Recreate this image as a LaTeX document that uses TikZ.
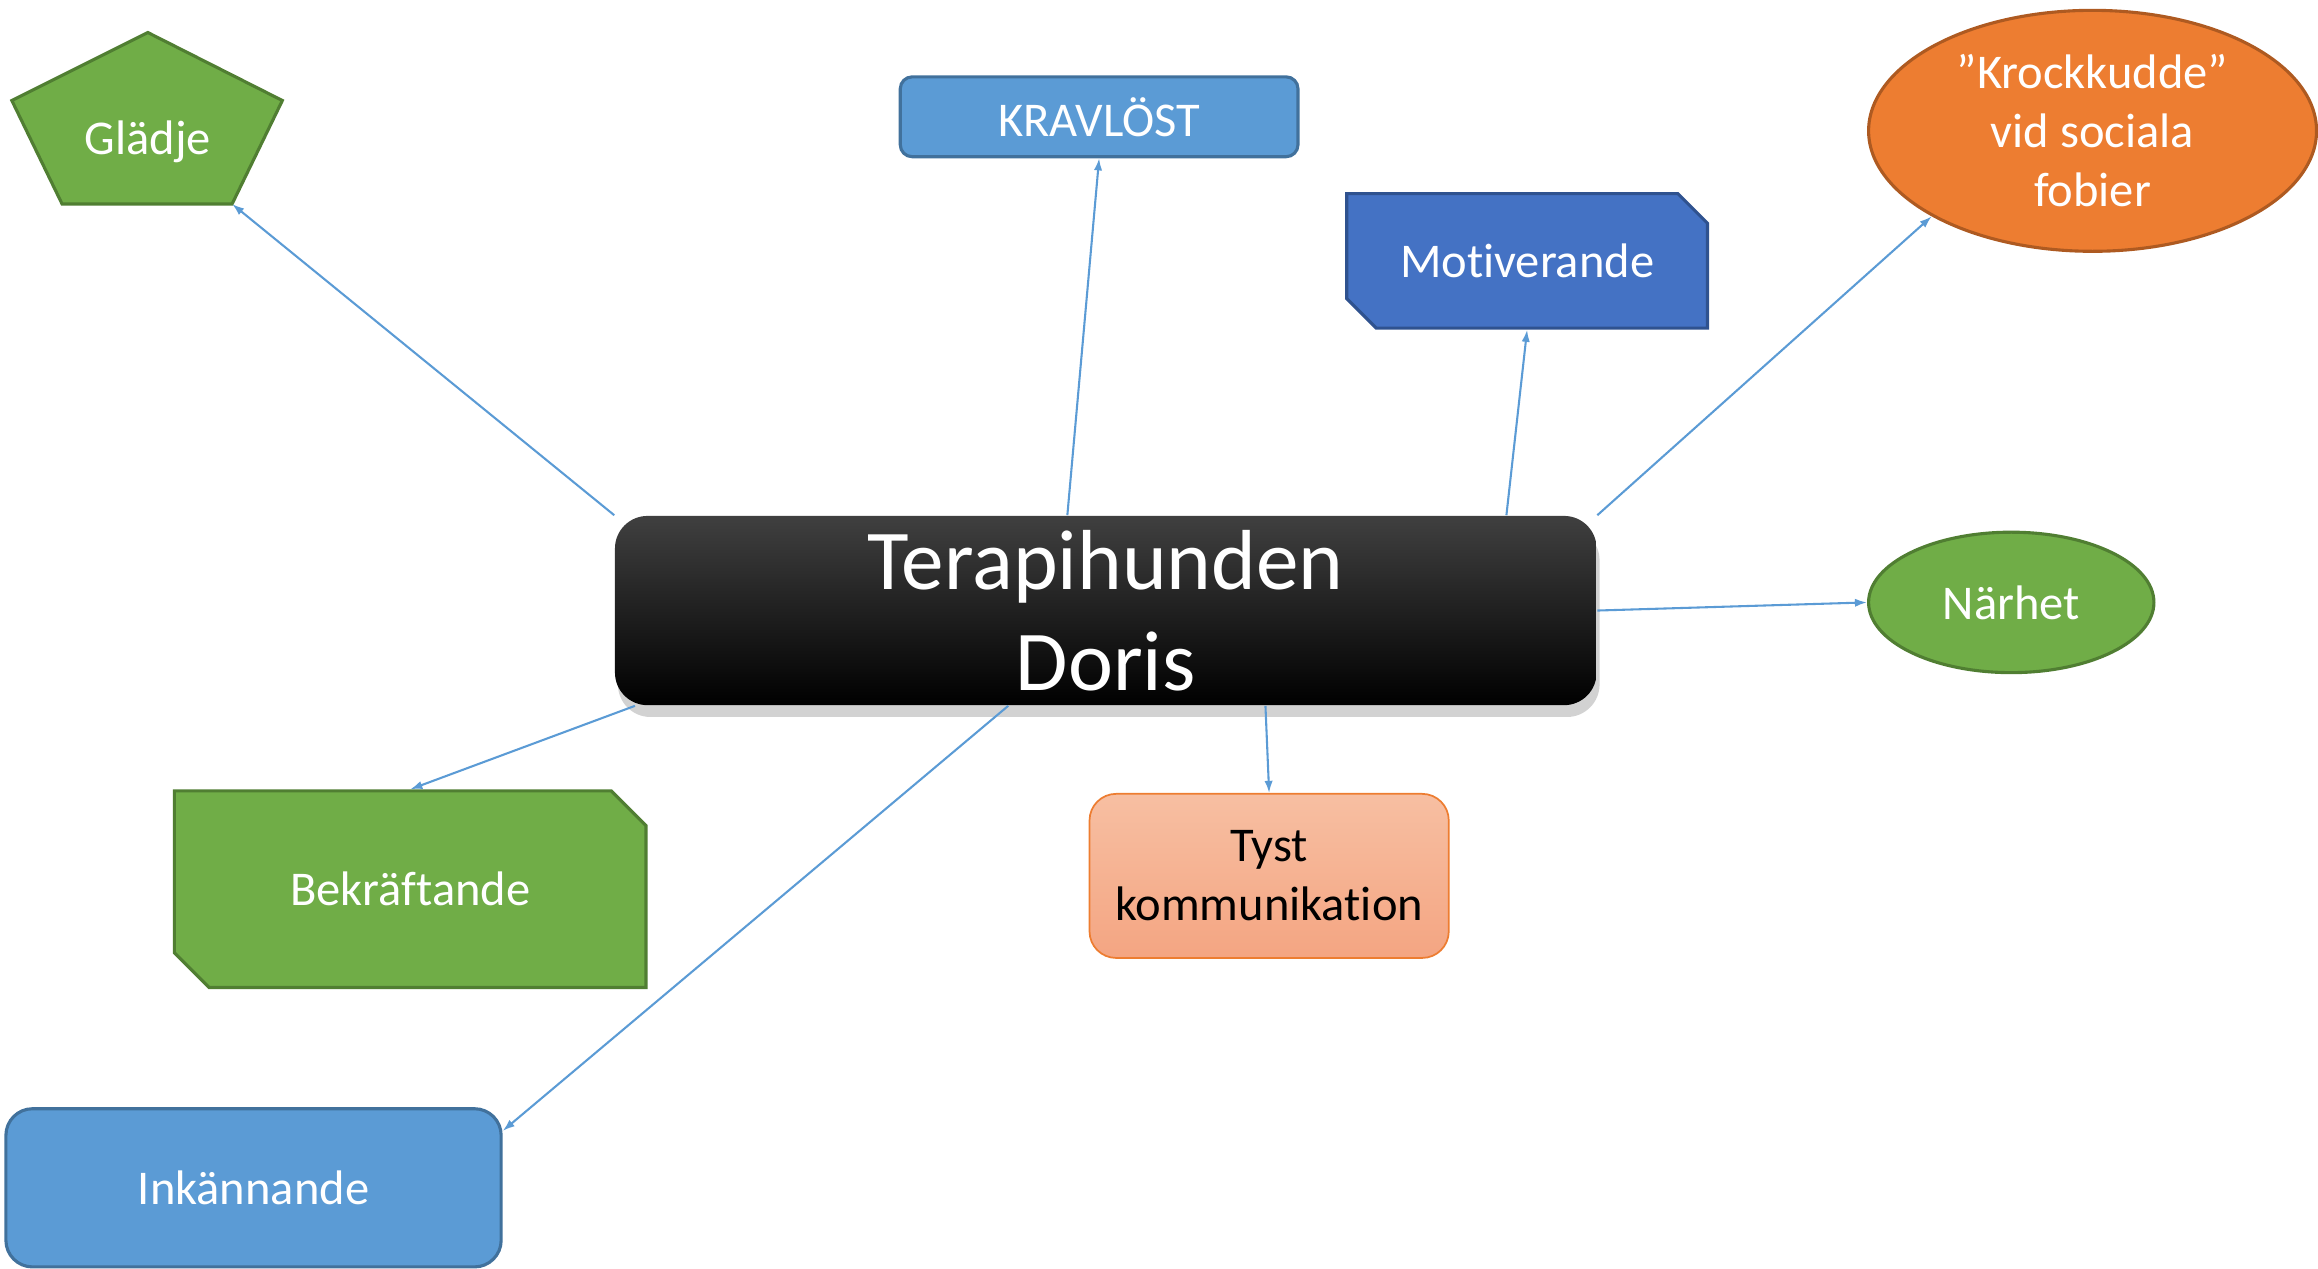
\documentclass[tikz,border=0pt]{standalone}
\usepackage{fontspec}
\setmainfont{Carlito}[Ligatures=NoCommon]
\usetikzlibrary{positioning,calc,arrows.meta,shapes.geometric,shapes.misc,shadows}

\definecolor{grnfill}{HTML}{70AD47}
\definecolor{grnline}{HTML}{507E32}
\definecolor{bluefill}{HTML}{5B9BD5}
\definecolor{blueline}{HTML}{41719C}
\definecolor{darkfill}{HTML}{4472C4}
\definecolor{darkline}{HTML}{2F528F}
\definecolor{orgfill}{HTML}{ED7D31}
\definecolor{orgline}{HTML}{AE5A21}
\definecolor{peachtop}{HTML}{F7BFA2}
\definecolor{peachbot}{HTML}{F4A582}
\definecolor{lnk}{HTML}{5B9BD5}

\begin{document}
\begin{tikzpicture}[x=0.015cm,y=-0.015cm,>=Latex,
  lbl/.style={font=\fontsize{14}{17}\selectfont, text=white, align=center},
  roundbox/.style={lbl, rectangle, rounded corners=0.12cm, fill=bluefill, draw=blueline, line width=0.9pt, inner sep=0pt},
  snipbox/.style={lbl, chamfered rectangle, chamfered rectangle corners={north east,south west}, line width=0.9pt, inner sep=0pt},
  oval/.style={lbl, ellipse, line width=0.9pt, inner sep=0pt},
  link/.style={-{Latex[length=3.5pt,width=2.4pt]}, draw=lnk, line width=0.6pt}]

  % Page
  \useasboundingbox (0,0) rectangle (1568,858);

  % Centre
  \node[rectangle, rounded corners=0.33cm, minimum width=9.96cm, minimum height=1.92cm,
        top color=black!75, middle color=black, bottom color=black,
        drop shadow={shadow xshift=0.3mm, shadow yshift=-1.2mm, opacity=0.25, fill=black!70},
        text=white, align=center, font=\fontsize{24.6}{29}\selectfont, inner sep=0pt]
        (td) at (748,413) {Terapihunden\\Doris};

  % Glädje (pentagon)
  \draw[fill=grnfill, draw=grnline, line width=0.9pt]
    (100,22) -- (191,68) -- (157,138) coordinate (glbr) -- (42,138) -- (8,68) -- cycle;
  \node[lbl] (gl) at (100,96) {Glädje};

  % Top row
  \node[roundbox, minimum width=4.035cm, minimum height=0.81cm] (kr) at (743.5,79) {KRAVLÖST};
  \node[snipbox, fill=darkfill, draw=darkline, minimum width=3.66cm, minimum height=1.365cm,
        chamfered rectangle xsep=0.15cm, chamfered rectangle ysep=0.15cm] (mo) at (1033,176.5) {Motiverande};
  \node[oval, fill=orgfill, draw=orgline, minimum width=4.545cm, minimum height=2.445cm]
        (kk) at (1415.5,88.5) {”Krockkudde”\\vid sociala\\fobier};

  % Right
  \node[oval, fill=grnfill, draw=grnline, minimum width=2.895cm, minimum height=1.425cm] (na) at (1360.5,407.5) {Närhet};

  % Bottom row
  \node[snipbox, fill=grnfill, draw=grnline, minimum width=4.785cm, minimum height=1.995cm,
        chamfered rectangle xsep=0.18cm, chamfered rectangle ysep=0.18cm] (be) at (277.5,601.5) {Bekräftande};
  \node[rectangle, rounded corners=0.27cm, top color=peachtop, bottom color=peachbot, draw=orgfill, line width=0.5pt,
        minimum width=3.645cm, minimum height=1.665cm, align=center, inner sep=0pt,
        font=\fontsize{14}{17}\selectfont] (ty) at (858.5,592.5) {Tyst\\kommunikation};
  \node[roundbox, rounded corners=0.27cm, minimum width=5.025cm, minimum height=1.605cm] (ik) at (171.5,803.5) {Inkännande};

  % Links
  \draw[link] (td.north west) -- (glbr);
  \draw[link] ($(td.north)+(-26,0)$) -- (kr.south);
  \draw[link] ($(td.north)+(271,0)$) -- (mo.south);
  \draw[link] (td.north east) -- (kk.208);
  \draw[link] (td.east) -- (na.west);
  \draw[link] ($(td.south)+(108,0)$) -- (ty.north);
  \draw[link] ($(td.south)+(-66,0)$) -- ($(ik.east)+(0,-38.5)$);
  \draw[link] ($(td.south west)+(14,0)$) -- (be.north);
\end{tikzpicture}
\end{document}
